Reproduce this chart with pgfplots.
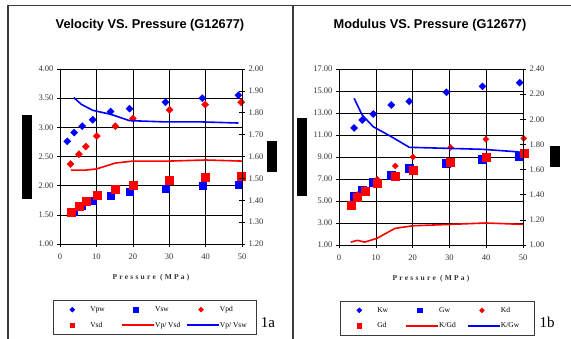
\documentclass[border=0pt]{standalone}
\usepackage{fontspec}
\setmainfont{Liberation Serif}
\newfontfamily\arialf{Liberation Sans}
\newfontfamily\spacedf[LetterSpace=30]{Liberation Serif}
\usepackage{pgfplots}
\pgfplotsset{compat=1.18}
\definecolor{tickgray}{HTML}{333333}
\definecolor{framegray}{HTML}{3A3A3A}
\pgfplotsset{
  markleg/.style={legend image code/.code={\draw[##1] plot coordinates {(14pt,0pt)}; \path[draw=none, fill=none] (0pt,-2pt) rectangle (32pt,2pt);}},
  lineleg/.style={legend image code/.code={\draw[##1, line width=1.8pt] (0pt,0pt) -- (32pt,0pt); \path[draw=none, fill=none] (0pt,-2pt) rectangle (32pt,2pt);}},
  base/.style={scale only axis, xmin=0, xmax=50, clip=false,
    /pgf/number format/assume math mode=true,
    tick label style={font=\fontsize{8.5}{10}\selectfont, text=tickgray},
    tick style={black, line width=0.6pt},
    axis line style={black, line width=0.7pt},
    y tick label style={/pgf/number format/fixed, /pgf/number format/fixed zerofill, /pgf/number format/precision=2},
  },
  prim/.style={base, grid=major, major grid style={black, line width=0.6pt},
    tick align=outside, major tick length=3pt, xtick pos=bottom, ytick pos=left,
    xtick={0,10,20,30,40,50},
    x tick label style={yshift=-3pt},
    xlabel={\spacedf\bfseries\fontsize{7.5}{9}\selectfont Pressure (MPa)},
    xlabel style={at={(axis description cs:0.5,-0.194)}, anchor=center, text=tickgray},
  },
  sec/.style={base, axis y line*=right, axis x line=none, tick align=center, major tick length=6pt,
    legend columns=3, legend cell align=left,
    legend style={draw=framegray, line width=0.6pt, font=\fontsize{7.5}{9}\selectfont,
      inner xsep=5pt, inner ysep=6pt, row sep=9pt,
      /tikz/every even column/.append style={column sep=0pt},
      nodes={inner sep=0pt}},
  },
}
\begin{document}
\begin{tikzpicture}[x=1pt,y=1pt]
\useasboundingbox (0,0) rectangle (571,339);
% frame
\draw[framegray, line width=1.2pt] (8,0) -- (8,333.5) -- (571,333.5);
\draw[framegray, line width=1.2pt] (293,0) -- (293,333.5);
% black bars
\fill[black] (22,140) rectangle (32,224);
\fill[black] (267,167) rectangle (277,198);
\fill[black] (297,143) rectangle (307,221);
\fill[black] (550,172) rectangle (560,193);
% titles
\node[font=\arialf\bfseries\fontsize{12.8}{15}\selectfont] at (150,314) {Velocity VS. Pressure (G12677)};
\node[font=\arialf\bfseries\fontsize{12.8}{15}\selectfont] at (430,314) {Modulus VS. Pressure (G12677)};
\node[font=\fontsize{15}{17}\selectfont] at (268,16) {1a};
\node[font=\fontsize{15}{17}\selectfont] at (547,17) {1b};

% ---------- Left panel ----------
\begin{axis}[prim, at={(60pt,95pt)}, anchor=south west, width=182pt, height=175pt,
  ymin=1, ymax=4, ytick={1,1.5,2,2.5,3,3.5,4}]
\addplot[only marks, mark=square*, mark size=2.5pt, mark options={rotate=45, fill=blue, draw=blue}] coordinates
 {(2,2.76) (3.9,2.91) (6.1,3.02) (9,3.13) (13.9,3.27) (19.1,3.32) (29,3.43) (39.1,3.50) (49,3.55)};
\addplot[only marks, mark=square*, mark size=3.6pt, mark options={fill=blue, draw=blue}] coordinates
 {(3.8,1.56) (5.9,1.65) (9,1.74) (13.9,1.83) (19.1,1.89) (29,1.95) (39.1,2.00) (49,2.02)};
\addplot[only marks, mark=square*, mark size=2.5pt, mark options={rotate=45, fill=red, draw=red}] coordinates
 {(2.9,2.37) (5.2,2.54) (7.1,2.67) (10.1,2.85) (15.2,3.02) (20,3.15) (30.1,3.30) (39.9,3.39) (49.8,3.43)};
\addplot[only marks, mark=square*, mark size=4pt, mark options={fill=red, draw=red}] coordinates
 {(3,1.54) (5.2,1.65) (7.1,1.73) (10.1,1.84) (15.1,1.94) (20,2.01) (29.9,2.09) (39.8,2.15) (49.7,2.17)};
\end{axis}
\begin{axis}[sec, at={(60pt,95pt)}, anchor=south west, width=182pt, height=175pt,
  ymin=1.2, ymax=2.0, ytick={1.2,1.3,1.4,1.5,1.6,1.7,1.8,1.9,2.0},
  legend style={at={(-0.0385,-0.32)}, anchor=north west}]
\addplot[red, line width=1.6pt, forget plot] coordinates
 {(3,1.538) (5,1.538) (7.1,1.538) (10,1.543) (15.2,1.570) (20,1.579) (30,1.579) (40,1.584) (50,1.579)};
\addplot[blue, line width=1.6pt, forget plot] coordinates
 {(3.8,1.869) (5.9,1.838) (9,1.811) (13.9,1.793) (19.1,1.764) (29,1.758) (39.1,1.758) (49,1.753)};
\addlegendimage{only marks, mark=square*, mark size=1.7pt, mark options={rotate=45, fill=blue, draw=blue}, markleg}
\addlegendentry{\makebox[31pt][l]{Vpw}}
\addlegendimage{only marks, mark=square*, mark size=2.4pt, mark options={fill=blue, draw=blue}, markleg}
\addlegendentry{\makebox[31pt][l]{Vsw}}
\addlegendimage{only marks, mark=square*, mark size=1.7pt, mark options={rotate=45, fill=red, draw=red}, markleg}
\addlegendentry{\makebox[31pt][l]{Vpd}}
\addlegendimage{only marks, mark=square*, mark size=2.4pt, mark options={fill=red, draw=red}, markleg}
\addlegendentry{\makebox[31pt][l]{Vsd}}
\addlegendimage{red, lineleg}
\addlegendentry{\makebox[31pt][l]{Vp/ Vsd}}
\addlegendimage{blue, lineleg}
\addlegendentry{\makebox[31pt][l]{Vp/ Vsw}}
\end{axis}

% ---------- Right panel ----------
\begin{axis}[prim, at={(339pt,94pt)}, anchor=south west, width=184pt, height=176pt,
  ymin=1, ymax=17, ytick={1,3,5,7,9,11,13,15,17}]
\addplot[only marks, mark=square*, mark size=2.5pt, mark options={rotate=45, fill=blue, draw=blue}] coordinates
 {(4.1,11.64) (6.3,12.36) (9.3,12.91) (14.2,13.73) (19.1,14.06) (29.2,14.88) (39,15.42) (49.1,15.76)};
\addplot[only marks, mark=square*, mark size=4pt, mark options={fill=blue, draw=blue}] coordinates
 {(4.1,5.45) (6.3,6.0) (9.3,6.67) (14.2,7.39) (19.1,7.94) (29.2,8.42) (39,8.79) (49.1,9.09)};
\addplot[only marks, mark=square*, mark size=2.1pt, mark options={rotate=45, fill=red, draw=red}] coordinates
 {(3.2,4.72) (5,5.59) (7,6.05) (10.4,6.97) (15.3,8.18) (20.1,9.0) (30.3,9.88) (39.9,10.61) (50.2,10.70)};
\addplot[only marks, mark=square*, mark size=4pt, mark options={fill=red, draw=red}] coordinates
 {(3.2,4.61) (5,5.39) (7,5.91) (10.3,6.61) (15.2,7.27) (20.1,7.82) (30.3,8.52) (39.9,8.97) (50.2,9.33)};
\end{axis}
\begin{axis}[sec, at={(339pt,94pt)}, anchor=south west, width=184pt, height=176pt,
  ymin=1, ymax=2.4, ytick={1,1.2,1.4,1.6,1.8,2.0,2.2,2.4},
  legend style={at={(0.0054,-0.3165)}, anchor=north west}]
\addplot[red, line width=1.6pt, forget plot] coordinates
 {(3.2,1.023) (5,1.037) (7,1.023) (10.3,1.053) (15.2,1.132) (20.1,1.153) (30.3,1.164) (39.9,1.175) (50,1.164)};
\addplot[blue, line width=1.6pt, forget plot] coordinates
 {(4.1,2.167) (6.3,2.034) (9.3,1.941) (14.2,1.862) (19.1,1.777) (29.2,1.769) (39,1.761) (49.1,1.740)};
\addlegendimage{only marks, mark=square*, mark size=1.7pt, mark options={rotate=45, fill=blue, draw=blue}, markleg}
\addlegendentry{\makebox[28pt][l]{Kw}}
\addlegendimage{only marks, mark=square*, mark size=2.4pt, mark options={fill=blue, draw=blue}, markleg}
\addlegendentry{\makebox[28pt][l]{Gw}}
\addlegendimage{only marks, mark=square*, mark size=1.7pt, mark options={rotate=45, fill=red, draw=red}, markleg}
\addlegendentry{\makebox[28pt][l]{Kd}}
\addlegendimage{only marks, mark=square*, mark size=2.4pt, mark options={fill=red, draw=red}, markleg}
\addlegendentry{\makebox[28pt][l]{Gd}}
\addlegendimage{red, lineleg}
\addlegendentry{\makebox[28pt][l]{K/Gd}}
\addlegendimage{blue, lineleg}
\addlegendentry{\makebox[28pt][l]{K/Gw}}
\end{axis}
\end{tikzpicture}
\end{document}
